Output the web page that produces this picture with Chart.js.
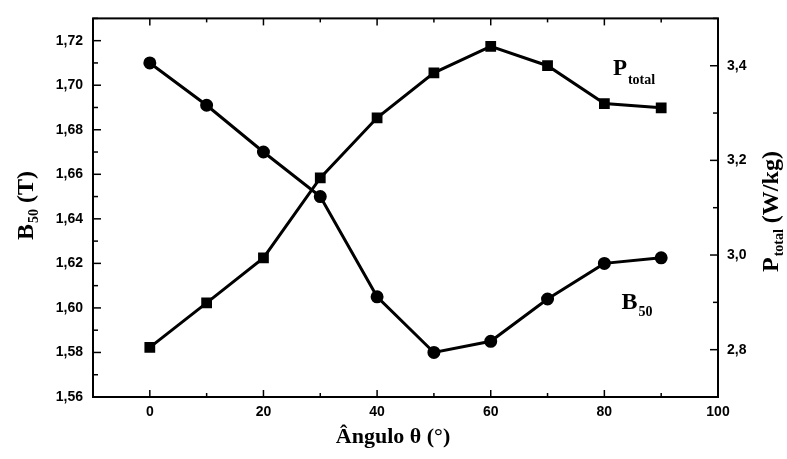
<!DOCTYPE html>
<html>
<head>
<meta charset="UTF-8">
<title>B50 e Ptotal vs Ângulo</title>
<style>
	body { margin: 0; background: #fff; }
	.container { width: 787px; height: 459px; }
</style>
<script src="https://cdn.jsdelivr.net/npm/chart.js@4.4.0/dist/chart.umd.min.js"></script>
</head>
<body>
<div class="container">
	<canvas id="myChart" width="787" height="459"></canvas>
</div>
<script type="text/javascript">
	// data
	var angles = [0, 10, 20, 30, 40, 50, 60, 70, 80, 90];
	var b50 = [1.710, 1.691, 1.670, 1.650, 1.605, 1.580, 1.585, 1.604, 1.620, 1.6225];
	var ptotal = [2.805, 2.899, 2.994, 3.163, 3.290, 3.385, 3.441, 3.400, 3.320, 3.311];

	// ticks
	var xTicks = [0, 20, 40, 60, 80, 100];
	var xMinor = [-10, 10, 30, 50, 70, 90];
	var leftTicks = [1.56, 1.58, 1.60, 1.62, 1.64, 1.66, 1.68, 1.70, 1.72];
	var leftMinor = [1.57, 1.59, 1.61, 1.63, 1.65, 1.67, 1.69, 1.71, 1.73];
	var rightTicks = [2.8, 3.0, 3.2, 3.4];
	var rightMinor = [2.7, 2.9, 3.1, 3.3, 3.5];

	var tickFont = { family: 'Liberation Sans', size: 14, weight: 'bold' };

	function pts(ys) {
		return angles.map(function(a, i) { return { x: a, y: ys[i] }; });
	}
	function comma(d) {
		return function(v) { return v.toFixed(d).replace('.', ','); };
	}
	function setTicks(arr) {
		return function(scale) { scale.ticks = arr.map(function(v) { return { value: v }; }); };
	}

	// draws a word with a subscript at current origin, returns width
	function subText(ctx, main, sub, x, y, bigSize, smallSize, drop) {
		ctx.font = 'bold ' + bigSize + 'px "Liberation Serif"';
		ctx.fillText(main, x, y);
		var w = ctx.measureText(main).width;
		ctx.font = 'bold ' + smallSize + 'px "Liberation Serif"';
		ctx.fillText(sub, x + w + 1, y + drop);
		return w + 1 + ctx.measureText(sub).width;
	}

	var framePlugin = {
		id: 'frame',
		afterDraw: function(chart) {
			var ctx = chart.ctx, a = chart.chartArea;
			var sx = chart.scales.x, sl = chart.scales.yL, sr = chart.scales.yR;
			ctx.save();
			ctx.strokeStyle = '#000';
			ctx.lineWidth = 2;
			ctx.strokeRect(a.left, a.top, a.right - a.left, a.bottom - a.top);

			// inward tick marks
			function tick(x1, y1, x2, y2) {
				ctx.beginPath(); ctx.moveTo(x1, y1); ctx.lineTo(x2, y2); ctx.stroke();
			}
			ctx.lineWidth = 1.5;
			xTicks.forEach(function(v) {
				var p = sx.getPixelForValue(v);
				tick(p, a.bottom, p, a.bottom - 7);
				tick(p, a.top, p, a.top + 7);
			});
			xMinor.forEach(function(v) {
				var p = sx.getPixelForValue(v);
				tick(p, a.bottom, p, a.bottom - 4);
				tick(p, a.top, p, a.top + 4);
			});
			leftTicks.forEach(function(v) {
				var p = sl.getPixelForValue(v);
				tick(a.left, p, a.left + 8, p);
			});
			leftMinor.forEach(function(v) {
				var p = sl.getPixelForValue(v);
				tick(a.left, p, a.left + 5, p);
			});
			rightTicks.forEach(function(v) {
				var p = sr.getPixelForValue(v);
				tick(a.right, p, a.right - 8, p);
			});
			rightMinor.forEach(function(v) {
				var p = sr.getPixelForValue(v);
				tick(a.right, p, a.right - 5, p);
			});

			ctx.fillStyle = '#000';
			ctx.textBaseline = 'alphabetic';
			ctx.textAlign = 'left';

			// x title
			ctx.font = 'bold 22px "Liberation Serif"';
			ctx.textAlign = 'center';
			ctx.fillText('Ângulo θ (°)', 393, 443);
			ctx.textAlign = 'left';

			// left title (rotated)
			ctx.save();
			ctx.translate(33, 240);
			ctx.rotate(-Math.PI / 2);
			var w = subText(ctx, 'B', '50', 0, 0, 24, 14, 5);
			ctx.font = 'bold 24px "Liberation Serif"';
			ctx.fillText(' (T)', w, 0);
			ctx.restore();

			// right title (rotated)
			ctx.save();
			ctx.translate(778, 272);
			ctx.rotate(-Math.PI / 2);
			w = subText(ctx, 'P', 'total', 0, 0, 24, 14, 5);
			ctx.font = 'bold 24px "Liberation Serif"';
			ctx.fillText(' (W/kg)', w, 0);
			ctx.restore();

			// series labels
			subText(ctx, 'P', 'total', sx.getPixelForValue(81.5), sr.getPixelForValue(3.38), 23, 14, 9);
			subText(ctx, 'B', '50', sx.getPixelForValue(83), sl.getPixelForValue(1.5995), 24, 14, 7);
			ctx.restore();
		}
	};

	var ctx = document.getElementById('myChart').getContext('2d');
	var myChart = new Chart(ctx, {
		type: 'line',
		data: {
			datasets: [{
				label: 'B50',
				data: pts(b50),
				yAxisID: 'yL',
				borderColor: '#000',
				backgroundColor: '#000',
				borderWidth: 3,
				pointStyle: 'circle',
				pointRadius: 5,
				tension: 0
			}, {
				label: 'Ptotal',
				data: pts(ptotal),
				yAxisID: 'yR',
				borderColor: '#000',
				backgroundColor: '#000',
				borderWidth: 3,
				pointStyle: 'rect',
				pointRadius: 5.5,
				tension: 0
			}]
		},
		options: {
			responsive: false,
			animation: false,
			layout: { padding: { top: 16, left: 0, right: 0, bottom: 0 } },
			plugins: { legend: { display: false }, tooltip: { enabled: false } },
			scales: {
				x: {
					type: 'linear',
					min: -10, max: 100,
					grid: { display: false, drawTicks: false },
					border: { display: false },
					afterBuildTicks: setTicks(xTicks),
					afterFit: function(s) { s.height = 62; },
					ticks: { color: '#000', font: tickFont, padding: 7, maxRotation: 0 }
				},
				yL: {
					type: 'linear', position: 'left',
					min: 1.56, max: 1.73,
					grid: { display: false, drawTicks: false },
					border: { display: false },
					afterBuildTicks: setTicks(leftTicks),
					afterFit: function(s) { s.width = 93; },
					ticks: { color: '#000', font: tickFont, padding: 10, callback: comma(2) }
				},
				yR: {
					type: 'linear', position: 'right',
					min: 2.7, max: 3.5,
					grid: { display: false, drawTicks: false },
					border: { display: false },
					afterBuildTicks: setTicks(rightTicks),
					afterFit: function(s) { s.width = 69; },
					ticks: { color: '#000', font: tickFont, padding: 9, callback: comma(1) }
				}
			}
		},
		plugins: [framePlugin]
	});
</script>
</body>
</html>
